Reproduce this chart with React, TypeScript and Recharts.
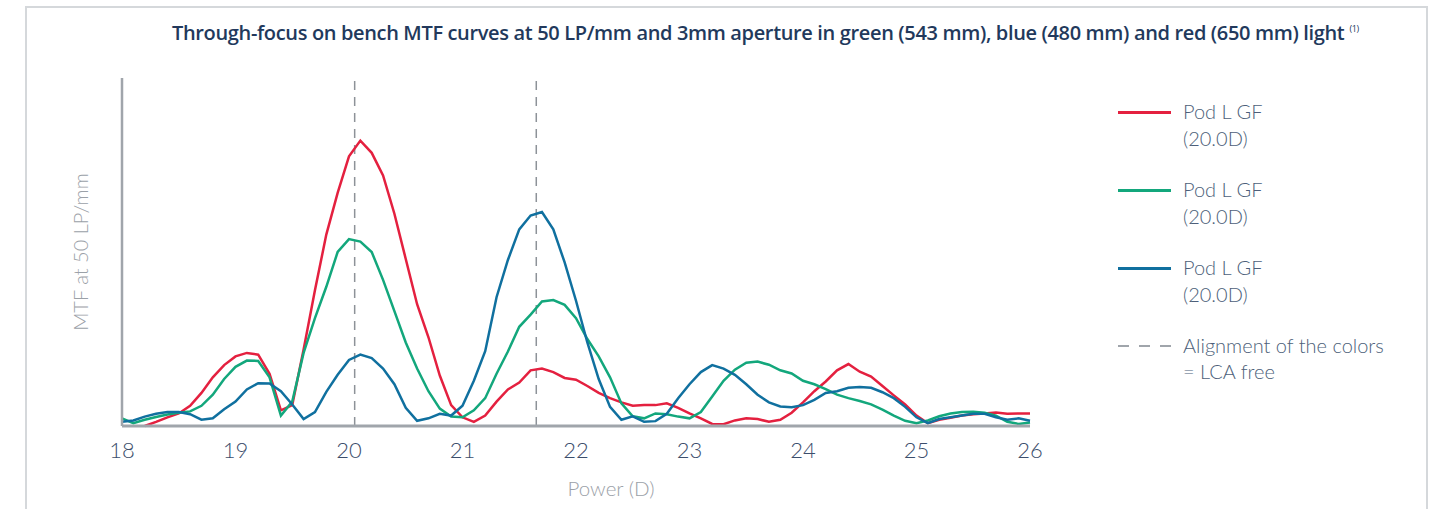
import { Line, LineChart, ReferenceLine, XAxis, YAxis } from "recharts";

// Power (D) sampled every 0.1 D
const powers = [
  18.0, 18.1, 18.2, 18.3, 18.4, 18.5, 18.6, 18.7, 18.8, 18.9,
  19.0, 19.1, 19.2, 19.3, 19.4, 19.5, 19.6, 19.7, 19.8, 19.9,
  20.0, 20.1, 20.2, 20.3, 20.4, 20.5, 20.6, 20.7, 20.8, 20.9,
  21.0, 21.1, 21.2, 21.3, 21.4, 21.5, 21.6, 21.7, 21.8, 21.9,
  22.0, 22.1, 22.2, 22.3, 22.4, 22.5, 22.6, 22.7, 22.8, 22.9,
  23.0, 23.1, 23.2, 23.3, 23.4, 23.5, 23.6, 23.7, 23.8, 23.9,
  24.0, 24.1, 24.2, 24.3, 24.4, 24.5, 24.6, 24.7, 24.8, 24.9,
  25.0, 25.1, 25.2, 25.3, 25.4, 25.5, 25.6, 25.7, 25.8, 25.9,
  26.0,
];

// MTF as a fraction of the axis height
const redMtf = [
  null, null, 0.0, 0.012, 0.025, 0.036, 0.058, 0.095, 0.14, 0.175,
  0.2, 0.21, 0.205, 0.15, 0.045, 0.06, 0.22, 0.39, 0.55, 0.67,
  0.775, 0.82, 0.785, 0.72, 0.61, 0.48, 0.35, 0.255, 0.145, 0.06,
  0.025, 0.012, 0.03, 0.07, 0.105, 0.125, 0.16, 0.165, 0.155, 0.138,
  0.133, 0.115, 0.095, 0.08, 0.068, 0.058, 0.06, 0.06, 0.065, 0.052,
  0.036, 0.022, 0.006, 0.005, 0.016, 0.022, 0.02, 0.012, 0.018, 0.038,
  0.068, 0.1, 0.128, 0.16, 0.178, 0.156, 0.142, 0.115, 0.088, 0.062,
  0.03, 0.008, 0.018, 0.024, 0.03, 0.034, 0.036, 0.039, 0.035, 0.036,
  0.036,
];

const greenMtf = [
  0.022, 0.008, 0.018, 0.026, 0.033, 0.038, 0.042, 0.058, 0.09, 0.135,
  0.17, 0.188, 0.187, 0.14, 0.03, 0.07, 0.21, 0.31, 0.4, 0.5,
  0.537, 0.53, 0.5, 0.42, 0.33, 0.24, 0.165, 0.1, 0.05, 0.027,
  0.025, 0.045, 0.08, 0.15, 0.214, 0.285, 0.32, 0.358, 0.362, 0.348,
  0.31, 0.25, 0.2, 0.14, 0.065, 0.028, 0.022, 0.036, 0.034, 0.027,
  0.022, 0.04, 0.085, 0.13, 0.162, 0.182, 0.185, 0.176, 0.16, 0.151,
  0.13, 0.12, 0.106, 0.09, 0.08, 0.072, 0.062, 0.047, 0.03, 0.015,
  0.008, 0.016, 0.028, 0.036, 0.04, 0.041, 0.038, 0.03, 0.012, 0.006,
  0.01,
];

const blueMtf = [
  0.012, 0.016, 0.027, 0.035, 0.04, 0.04, 0.034, 0.018, 0.022, 0.048,
  0.07, 0.105, 0.123, 0.122, 0.1, 0.062, 0.02, 0.04, 0.098, 0.147,
  0.19, 0.205, 0.195, 0.165, 0.12, 0.052, 0.015, 0.022, 0.035, 0.03,
  0.058, 0.13, 0.215, 0.37, 0.477, 0.565, 0.605, 0.615, 0.565, 0.47,
  0.36, 0.24, 0.135, 0.055, 0.018, 0.028, 0.012, 0.014, 0.035, 0.08,
  0.12, 0.155, 0.175, 0.165, 0.147, 0.12, 0.09, 0.068, 0.056, 0.054,
  0.06, 0.075, 0.095, 0.1, 0.11, 0.112, 0.11, 0.097, 0.08, 0.055,
  0.025, 0.008, 0.02, 0.025, 0.03, 0.035, 0.035, 0.025, 0.018, 0.022,
  0.015,
];

const powerTicks = [18, 19, 20, 21, 22, 23, 24, 25, 26];
const alignmentPowers = [20.05, 21.65];

const series = [
  { key: "red", label: "Pod L GF", sub: "(20.0D)", color: "#e4203f" },
  { key: "green", label: "Pod L GF", sub: "(20.0D)", color: "#13a77c" },
  { key: "blue", label: "Pod L GF", sub: "(20.0D)", color: "#10709f" },
] as const;

const data = powers.map((power, i) => ({
  power,
  red: redMtf[i],
  green: greenMtf[i],
  blue: blueMtf[i],
}));

const textFont = "Lato, 'Open Sans', sans-serif";
const axisGrey = "#a0a5ab";
const legendText = {
  marginLeft: 12,
  fontSize: 20,
  fontWeight: 300,
  lineHeight: "27px",
  color: "#4d5f7a",
  whiteSpace: "nowrap" as const,
};

export default function App() {
  return (
    <div
      style={{
        position: "absolute",
        left: 0,
        top: 0,
        width: 1440,
        height: 509,
        background: "#fff",
        overflow: "hidden",
        fontFamily: textFont,
      }}
    >
      {/* frame */}
      <div
        style={{
          position: "absolute",
          left: 25,
          top: 6,
          width: 1399,
          height: 520,
          borderTop: "2px solid #d5d8db",
          borderLeft: "2px solid #d5d8db",
          borderRight: "2px solid #d5d8db",
        }}
      />

      <div
        style={{
          position: "absolute",
          left: 172,
          top: 19,
          fontFamily: "'Open Sans', sans-serif",
          fontWeight: 600,
          fontSize: 20,
          letterSpacing: -0.35,
          color: "#22395c",
          whiteSpace: "nowrap",
        }}
      >
        Through-focus on bench MTF curves at 50 LP/mm and 3mm aperture in green (543 mm), blue (480 mm) and red (650 mm) light
        <sup style={{ fontSize: 9, fontWeight: 400, marginLeft: 5 }}>(1)</sup>
      </div>

      <LineChart
        width={1440}
        height={509}
        data={data}
        margin={{ top: 78, right: 410, bottom: 43, left: 112 }}
        style={{ position: "absolute", left: 0, top: 0 }}
      >
        <XAxis
          dataKey="power"
          type="number"
          domain={[18, 26]}
          ticks={powerTicks}
          height={40}
          tickLine={false}
          tickMargin={10}
          axisLine={{ stroke: axisGrey, strokeWidth: 3 }}
          tick={{ fill: "#3c4e6c", fontSize: 22, fontWeight: 300, fontFamily: textFont }}
        />
        <YAxis
          type="number"
          domain={[0, 1]}
          width={10}
          tick={false}
          tickLine={false}
          axisLine={{ stroke: axisGrey, strokeWidth: 2.5 }}
        />
        {alignmentPowers.map((p) => (
          <ReferenceLine
            key={p}
            x={p}
            stroke="#8d9298"
            strokeWidth={1.5}
            strokeDasharray="9 7"
          />
        ))}
        {series.map((s) => (
          <Line
            key={s.key}
            type="linear"
            dataKey={s.key}
            stroke={s.color}
            strokeWidth={2.5}
            dot={false}
            activeDot={false}
            connectNulls={false}
            isAnimationActive={false}
          />
        ))}
      </LineChart>

      <div
        style={{
          position: "absolute",
          left: 80,
          top: 252,
          transform: "translate(-50%, -50%) rotate(-90deg)",
          fontSize: 20,
          fontWeight: 300,
          color: "#9ba1a8",
          whiteSpace: "nowrap",
        }}
      >
        MTF at 50 LP/mm
      </div>

      <div
        style={{
          position: "absolute",
          left: 611,
          top: 488,
          transform: "translate(-50%, -50%)",
          fontSize: 20.5,
          fontWeight: 300,
          color: "#9ba1a8",
          whiteSpace: "nowrap",
        }}
      >
        Power (D)
      </div>

      {/* legend */}
      <div style={{ position: "absolute", left: 1118, top: 98 }}>
        {series.map((s) => (
          <div key={s.key} style={{ display: "flex", height: 78 }}>
            <div
              style={{
                width: 53,
                height: 3,
                marginTop: 13,
                background: s.color,
                flexShrink: 0,
              }}
            />
            <div style={legendText}>
              {s.label}
              <br />
              {s.sub}
            </div>
          </div>
        ))}
        <div style={{ display: "flex" }}>
          <svg width={53} height={28} style={{ flexShrink: 0 }}>
            <line x1={0} y1={14} x2={53} y2={14} stroke={axisGrey} strokeWidth={2} strokeDasharray="11 10" />
          </svg>
          <div style={{ ...legendText, lineHeight: "26px" }}>
            Alignment of the colors
            <br />= LCA free
          </div>
        </div>
      </div>
    </div>
  );
}
